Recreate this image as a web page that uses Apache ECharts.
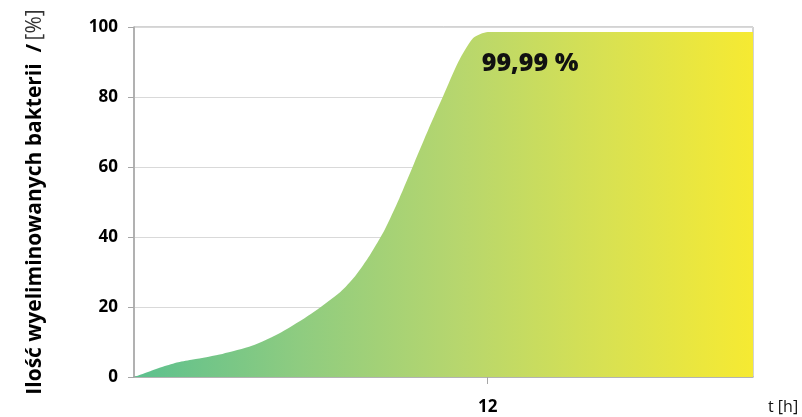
<!DOCTYPE html>
<html>
<head>
<meta charset="utf-8">
<script src="https://cdn.jsdelivr.net/npm/echarts@6/dist/echarts.min.js"></script>
<style>html,body{margin:0;padding:0;background:#fff}#c{width:802px;height:417px}</style>
</head>
<body>
<div id="c"></div>
<script>
const hours = [0, 0.5, 1, 1.5, 2, 3, 4, 5, 6, 7, 7.5, 8, 8.5, 9, 9.5, 10, 10.5, 11, 11.5, 12, 14, 16, 18, 21];
const killed = [0, 1.5, 3.0, 4.2, 5.0, 6.6, 8.9, 12.8, 18.0, 24.3, 28.8, 34.8, 42, 51, 61, 71, 80.5, 90, 96.8, 98.6, 98.6, 98.6, 98.6, 98.6];
const xTickLabels = [12];
const yTicks = [0, 20, 40, 60, 80, 100];
const peakLabel = '99,99 %';

const chart = echarts.init(document.getElementById('c'), null, {renderer: 'canvas'});
const font = '"Open Sans", "Liberation Sans", sans-serif';
chart.setOption({
  animation: false,
  grid: {left: 134, right: 49, top: 27, bottom: 40, show: true, borderColor: '#a6a6a6', borderWidth: 1},
  xAxis: {
    type: 'value', min: 0, max: 21, interval: 12,
    axisLine: {show: true, lineStyle: {color: '#a6a6a6', width: 1.5}},
    axisTick: {show: true, customValues: xTickLabels, length: 7, lineStyle: {color: '#a6a6a6'}},
    axisLabel: {customValues: xTickLabels, fontFamily: font, fontWeight: 'bold', fontSize: 17, color: '#000', margin: 22},
    splitLine: {show: false},
    name: 't [h]', nameLocation: 'end', nameGap: 15,
    nameTextStyle: {fontFamily: font, fontSize: 16, color: '#111', verticalAlign: 'top', padding: [22, 0, 0, 0]}
  },
  yAxis: {
    type: 'value', min: 0, max: 100, interval: 20,
    axisLine: {show: true, lineStyle: {color: '#a6a6a6', width: 1.5}},
    axisTick: {show: true, inside: false, length: 6, lineStyle: {color: '#a6a6a6'}},
    axisLabel: {fontFamily: font, fontWeight: 'bold', fontSize: 17, color: '#000', margin: 16},
    splitLine: {show: true, lineStyle: {color: '#d9d9d9', width: 1}},
    name: '{b|Ilość wyeliminowanych bakterii  /} {n|[%]}',
    nameLocation: 'middle', nameRotate: 90, nameGap: 88,
    nameTextStyle: {
      rich: {
        b: {fontFamily: font, fontWeight: 'bold', fontSize: 21, color: '#000'},
        n: {fontFamily: font, fontWeight: 'normal', fontSize: 21, color: '#333'}
      }
    }
  },
  series: [{
    type: 'line',
    data: hours.map((h, i) => [h, killed[i]]),
    smooth: 0.22,
    symbol: 'none',
    lineStyle: {width: 0},
    areaStyle: {
      opacity: 1,
      color: new echarts.graphic.LinearGradient(0, 0, 1, 0, [
        {offset: 0, color: '#5cc08e'},
        {offset: 0.27, color: '#8fcc80'},
        {offset: 0.52, color: '#b6d66e'},
        {offset: 0.76, color: '#d8e152'},
        {offset: 1, color: '#f6ea32'}
      ])
    },
    markPoint: {
      symbol: 'circle', symbolSize: 0,
      data: [{coord: [11.8, 89.5], value: peakLabel}],
      label: {show: true, position: 'right', distance: 0, formatter: peakLabel,
        fontFamily: '"Open Sans", Lato, sans-serif', fontWeight: 800, fontSize: 25, color: '#111'}
    }
  }]
});
</script>
</body>
</html>
